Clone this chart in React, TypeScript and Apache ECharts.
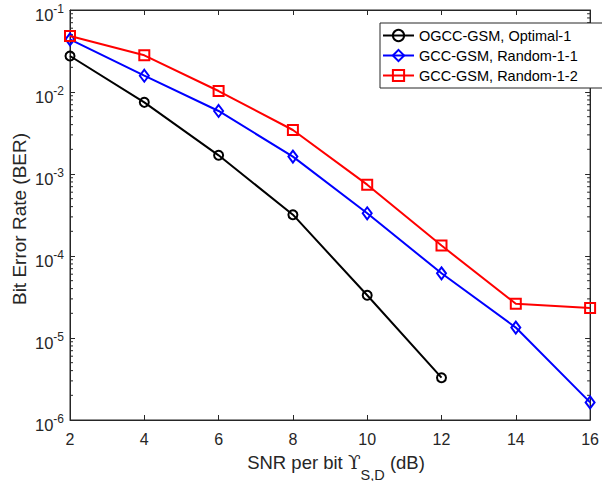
import React, { useEffect, useRef } from "react";
import * as echarts from "echarts";

// SNR per bit (dB)
const snr = [2, 4, 6, 8, 10, 12, 14, 16];
// BER curves
const berOptimal = [0.0275, 0.00748, 0.00169, 3.19e-4, 3.32e-5, 3.28e-6];
const berRandom11 = [0.0439, 0.0158, 0.00587, 0.00163, 3.32e-4, 6.15e-5, 1.34e-5, 1.64e-6];
const berRandom12 = [0.0482, 0.028, 0.01028, 0.00344, 7.41e-4, 1.34e-4, 2.62e-5, 2.32e-5];
const seriesNames = ["OGCC-GSM, Optimal-1", "GCC-GSM, Random-1-1", "GCC-GSM, Random-1-2"];
const seriesColors = ["#000000", "#0000ff", "#ff0000"];
const seriesSymbols = ["circle", "diamond", "rect"];
const decades = [-6, -5, -4, -3, -2];

const FONT = "Liberation Sans";
const AXIS = "#262626";

// minor tick positions on the log axis (2..9 within each decade)
const minorTicks: number[] = [];
decades.forEach((d) => {
  for (let m = 2; m <= 9; m++) minorTicks.push(m * Math.pow(10, d));
});

const pairs = (ys: number[]) => ys.map((y, i) => [snr[i], y]);

export default function App() {
  const ref = useRef<HTMLDivElement>(null);
  useEffect(() => {
    if (!ref.current) return;
    const chart = echarts.init(ref.current, undefined, { renderer: "svg" });
    const symbolSizes: any[] = [9, [9, 12], 10];
    const lineSeries = [berOptimal, berRandom11, berRandom12].map((vals, i) => ({
      name: seriesNames[i],
      type: "line",
      data: pairs(vals),
      symbol: seriesSymbols[i],
      symbolSize: symbolSizes[i],
      showAllSymbol: true,
      clip: false,
      color: seriesColors[i],
      lineStyle: { color: seriesColors[i], width: 2 },
      itemStyle: { color: "rgba(255,255,255,0)", borderColor: seriesColors[i], borderWidth: 2 },
      z: 3 + i,
    }));
    const expLabel = (v: number) => {
      const e = Math.round(Math.log10(v));
      return "{b|10}{e|" + e + "}";
    };
    chart.setOption({
      animation: false,
      grid: { left: 70, right: 8, top: 10, bottom: 61, show: true, borderColor: AXIS, borderWidth: 1 },
      xAxis: [
        {
          type: "value",
          min: 2,
          max: 16,
          interval: 2,
          axisLine: { lineStyle: { color: AXIS } },
          axisTick: { inside: true, length: 5, lineStyle: { color: AXIS } },
          axisLabel: { color: AXIS, fontSize: 16, fontFamily: FONT, margin: 11 },
          splitLine: { show: false },
        },
        {
          type: "value",
          position: "top",
          min: 2,
          max: 16,
          interval: 2,
          axisLine: { lineStyle: { color: AXIS } },
          axisTick: { inside: true, length: 5, lineStyle: { color: AXIS } },
          axisLabel: { show: false },
          splitLine: { show: false },
        },
      ],
      yAxis: [
        {
          type: "log",
          logBase: 10,
          min: 1e-6,
          max: 1e-1,
          axisLine: { lineStyle: { color: AXIS } },
          axisTick: { inside: true, length: 5, lineStyle: { color: AXIS } },
          axisLabel: {
            color: AXIS,
            fontFamily: FONT,
            margin: 6,
            formatter: expLabel,
            rich: {
              b: { fontSize: 16.5, fontFamily: FONT, color: AXIS, padding: [9, 0, 0, 0] },
              e: { fontSize: 12, fontFamily: FONT, color: AXIS, padding: [0, 0, 3, 0] },
            },
          },
          splitLine: { show: false },
        },
        {
          type: "log",
          logBase: 10,
          position: "right",
          min: 1e-6,
          max: 1e-1,
          axisLine: { lineStyle: { color: AXIS } },
          axisTick: { inside: true, length: 5, lineStyle: { color: AXIS } },
          axisLabel: { show: false },
          splitLine: { show: false },
        },
      ],
      legend: {
        orient: "vertical",
        left: 380,
        top: 23,
        padding: [5, 26, 5, 2],
        itemWidth: 31,
        itemHeight: 14,
        itemGap: 5,
        backgroundColor: "#ffffff",
        borderColor: AXIS,
        borderWidth: 1,
        borderRadius: 0,
        textStyle: { fontSize: 14.5, fontFamily: FONT, color: "#000000" },
        data: seriesNames.map((n, i) => ({
          name: n,
          itemStyle: { color: "rgba(255,255,255,0)", borderColor: seriesColors[i], borderWidth: 2 },
          lineStyle: { color: seriesColors[i], width: 2 },
        })),
      },
      graphic: [
        {
          type: "text",
          x: 19.5,
          y: 219,
          rotation: Math.PI / 2,
          style: {
            text: "Bit Error Rate (BER)",
            fontSize: 19,
            fontFamily: FONT,
            fill: AXIS,
            align: "center",
            verticalAlign: "middle",
          },
        },
        {
          type: "text",
          x: 336,
          y: 468,
          style: {
            text: "{a|SNR per bit }{u|ϒ}{s|S,D}{a| (dB)}",
            align: "center",
            verticalAlign: "middle",
            rich: {
              a: { fontSize: 18.5, fontFamily: FONT, fill: AXIS, padding: [0, 0, 12, 0] },
              u: { fontSize: 18.5, fontFamily: "DejaVu Serif", fill: AXIS, padding: [0, 0, 12, 0] },
              s: { fontSize: 14.5, fontFamily: FONT, fill: AXIS, padding: [13, 0, 0, 0] },
            },
          },
        },
      ],
      series: [
        ...lineSeries,
        {
          type: "custom",
          silent: true,
          xAxisIndex: 0,
          yAxisIndex: 0,
          data: minorTicks.map((v) => [2, v]),
          renderItem: (params: any, api: any) => {
            const y = api.coord([2, api.value(1)])[1];
            const cs = params.coordSys;
            const style = { stroke: AXIS, lineWidth: 1 };
            return {
              type: "group",
              children: [
                { type: "line", shape: { x1: cs.x, y1: y, x2: cs.x + 3, y2: y }, style },
                { type: "line", shape: { x1: cs.x + cs.width - 3, y1: y, x2: cs.x + cs.width, y2: y }, style },
              ],
            };
          },
          z: 1,
        },
      ],
    });
    return () => chart.dispose();
  }, []);
  return (
    <div
      ref={ref}
      style={{ position: "absolute", left: 0, top: 0, width: 602, height: 481, background: "#ffffff" }}
    />
  );
}
